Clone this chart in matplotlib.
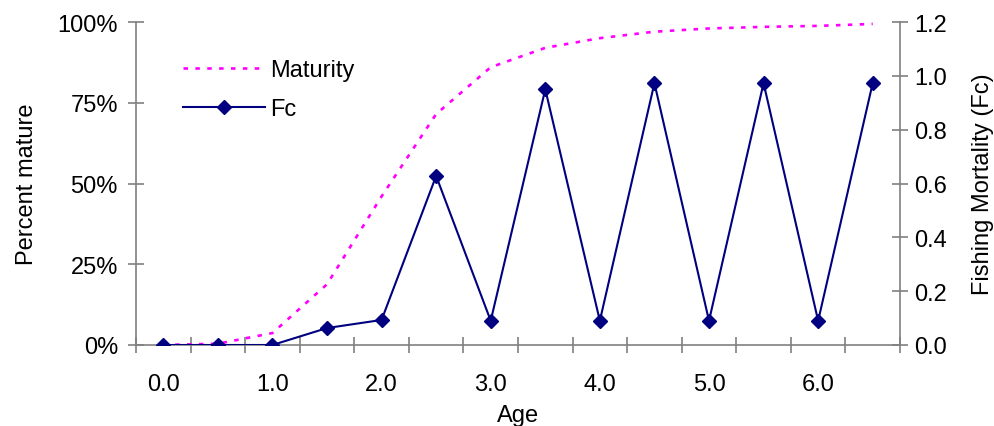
import matplotlib
matplotlib.use("Agg")
import matplotlib.pyplot as plt
import numpy as np

# ages (one category every half year)
ages = [0.0, 0.5, 1.0, 1.5, 2.0, 2.5, 3.0, 3.5, 4.0, 4.5, 5.0, 5.5, 6.0, 6.5]
# percent mature at age
maturity = [0.0, 0.4, 3.7, 18.8, 46.0, 71.5, 86.0, 92.0, 95.0, 97.0, 98.0, 98.5, 98.8, 99.4]
# fishing mortality at age
fc = [0.0, 0.0, 0.0, 0.063, 0.093, 0.628, 0.09, 0.95, 0.09, 0.973, 0.09, 0.973, 0.09, 0.973]

age_labels = [0.0, 1.0, 2.0, 3.0, 4.0, 5.0, 6.0]
pct_ticks = [0, 25, 50, 75, 100]
fc_ticks = [0.0, 0.2, 0.4, 0.6, 0.8, 1.0, 1.2]

plt.rcParams["font.family"] = ["Liberation Sans", "DejaVu Sans"]
plt.rcParams["font.size"] = 17

GREY = "#808080"

fig = plt.figure(figsize=(9.94, 4.27), dpi=100)
ax = fig.add_axes([136 / 994, 81 / 427, 764 / 994, 323 / 427])
ax2 = ax.twinx()

l1, = ax.plot(ages, maturity, color="#ff00ff", lw=1.9, dashes=(1.7, 2.8), label="Maturity")
l2, = ax2.plot(ages, fc, color="#000080", lw=1.5, marker="D", markersize=7.5, label="Fc")

step = ages[1] - ages[0]
ax.set_xlim(ages[0] - step / 2, ages[-1] + step / 2)
ax.set_ylim(0, 100)
ax2.set_ylim(0, 1.2)

# tick marks on category boundaries, labels every whole year
bounds = np.arange(ages[0] - step / 2, ages[-1] + step, step)
ax.set_xticks(bounds)
ax.set_xticklabels([])
ax.set_xticks(age_labels, minor=True)
ax.set_xticklabels([f"{a:.1f}" for a in age_labels], minor=True)
ax.tick_params(axis="x", which="major", direction="inout", length=11, color=GREY, width=1.2)
ax.tick_params(axis="x", which="minor", length=0, pad=20)

ax.set_yticks(pct_ticks)
ax.set_yticklabels([f"{p}%" for p in pct_ticks])
ax.tick_params(axis="y", direction="inout", length=12, color=GREY, width=1.2, pad=7)

ax2.set_yticks(fc_ticks)
ax2.set_yticklabels([f"{v:.1f}" for v in fc_ticks])
ax2.tick_params(axis="y", direction="inout", length=12, color=GREY, width=1.2, pad=4)

for a in (ax, ax2):
    a.spines["top"].set_visible(False)
    for s in ("left", "right", "bottom"):
        a.spines[s].set_color(GREY)
        a.spines[s].set_linewidth(1.2)
ax.spines["right"].set_visible(False)
ax2.spines["left"].set_visible(False)
ax2.spines["bottom"].set_visible(False)

ax.set_xlabel("Age")
ax.xaxis.set_label_coords(0.5, -0.183)
ax.set_ylabel("Percent mature")
ax.yaxis.set_label_coords(-0.128, 0.5)
ax2.set_ylabel("Fishing Mortality (Fc)")
ax2.yaxis.set_label_coords(1.094, 0.5)

ax2.legend(handles=[l1, l2], loc="upper left", bbox_to_anchor=(0.0615, 0.885),
           frameon=False, borderpad=0, borderaxespad=0, handlelength=3.47,
           handletextpad=0.2, labelspacing=0.72)

fig.savefig("out.png", dpi=100)
